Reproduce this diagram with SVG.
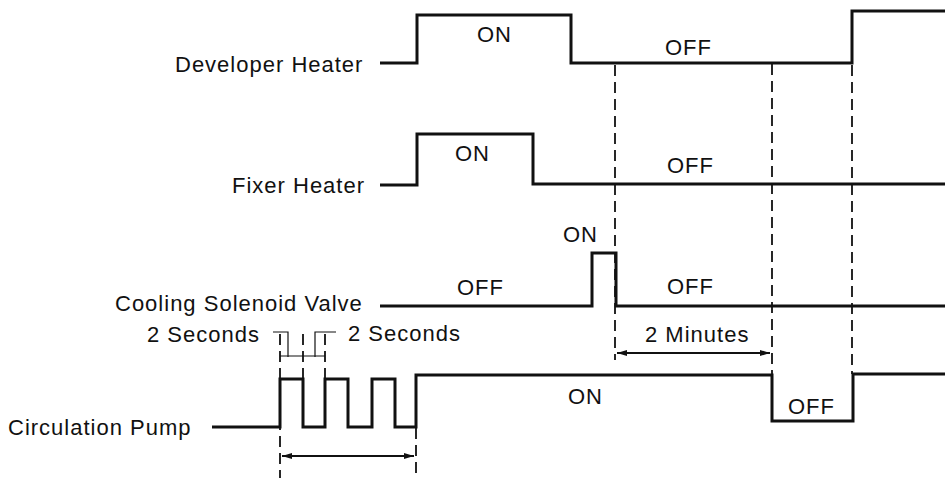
<svg xmlns="http://www.w3.org/2000/svg" width="945" height="478" viewBox="0 0 945 478">
<style>
text{font-family:"Liberation Sans",Arial,sans-serif;font-size:22px;letter-spacing:1px;fill:#111}
.sig{fill:none;stroke:#111;stroke-width:3;stroke-linejoin:miter;stroke-linecap:butt}
.dash{fill:none;stroke:#111;stroke-width:1.8;stroke-dasharray:11 6}
.thin{fill:none;stroke:#111;stroke-width:1.2}
.arr{fill:none;stroke:#111;stroke-width:1.8;marker-start:url(#ah);marker-end:url(#ah)}
</style>
<defs>
<marker id="ah" viewBox="0 0 10 6" refX="10" refY="3" markerWidth="10" markerHeight="6" markerUnits="userSpaceOnUse" orient="auto-start-reverse">
<path d="M0,0 L10,3 L0,6 Z" fill="#111"/>
</marker>
</defs>
<rect width="945" height="478" fill="#fff"/>
<g id="developer-heater">
<text x="175" y="72">Developer Heater</text>
<path class="sig" d="M380,63 H417 V15 H571 V63 H852 V11 H945"/>
<text x="477" y="42">ON</text>
<text x="665" y="55">OFF</text>
</g>
<g id="fixer-heater">
<text x="232" y="193">Fixer Heater</text>
<path class="sig" d="M380,185 H417 V134 H533 V184 H945"/>
<text x="455" y="161">ON</text>
<text x="667" y="173">OFF</text>
</g>
<g id="cooling-solenoid-valve">
<text x="115" y="311">Cooling Solenoid Valve</text>
<path class="sig" d="M380,306 H592 V253 H616 V306 H945"/>
<text x="457" y="295">OFF</text>
<text x="563" y="242">ON</text>
<text x="667" y="294">OFF</text>
</g>
<g id="circulation-pump">
<text x="8" y="435">Circulation Pump</text>
<path class="sig" d="M212,427 H280 V379 H303 V427 H325 V379 H348 V427 H372 V379 H395 V427 H416 V375 H772 V421 H853 V374 H945"/>
<text x="568" y="404">ON</text>
<text x="788" y="414">OFF</text>
</g>
<g id="timing-annotations">
<text x="147" y="342">2 Seconds</text>
<text x="348" y="341">2 Seconds</text>
<text x="645" y="342">2 Minutes</text>
</g>
<g id="connectors">
<line class="dash" x1="615" y1="65" x2="615" y2="360"/>
<line class="dash" x1="772" y1="64" x2="772" y2="375"/>
<line class="dash" x1="852" y1="65" x2="852" y2="374"/>
<line class="dash" x1="280" y1="334" x2="280" y2="478"/>
<line class="dash" x1="303" y1="334" x2="303" y2="379"/>
<line class="dash" x1="325" y1="334" x2="325" y2="379"/>
<line class="dash" x1="416" y1="428" x2="416" y2="478"/>
<polyline class="thin" points="273,332 288,332 288,357"/>
<polyline class="thin" points="315,357 315,332 336,332"/>
<line class="thin" x1="280" y1="356" x2="325" y2="356"/>
<line class="arr" x1="617" y1="353" x2="770" y2="353"/>
<line class="arr" x1="282" y1="456" x2="414" y2="456"/>
</g>
</svg>
